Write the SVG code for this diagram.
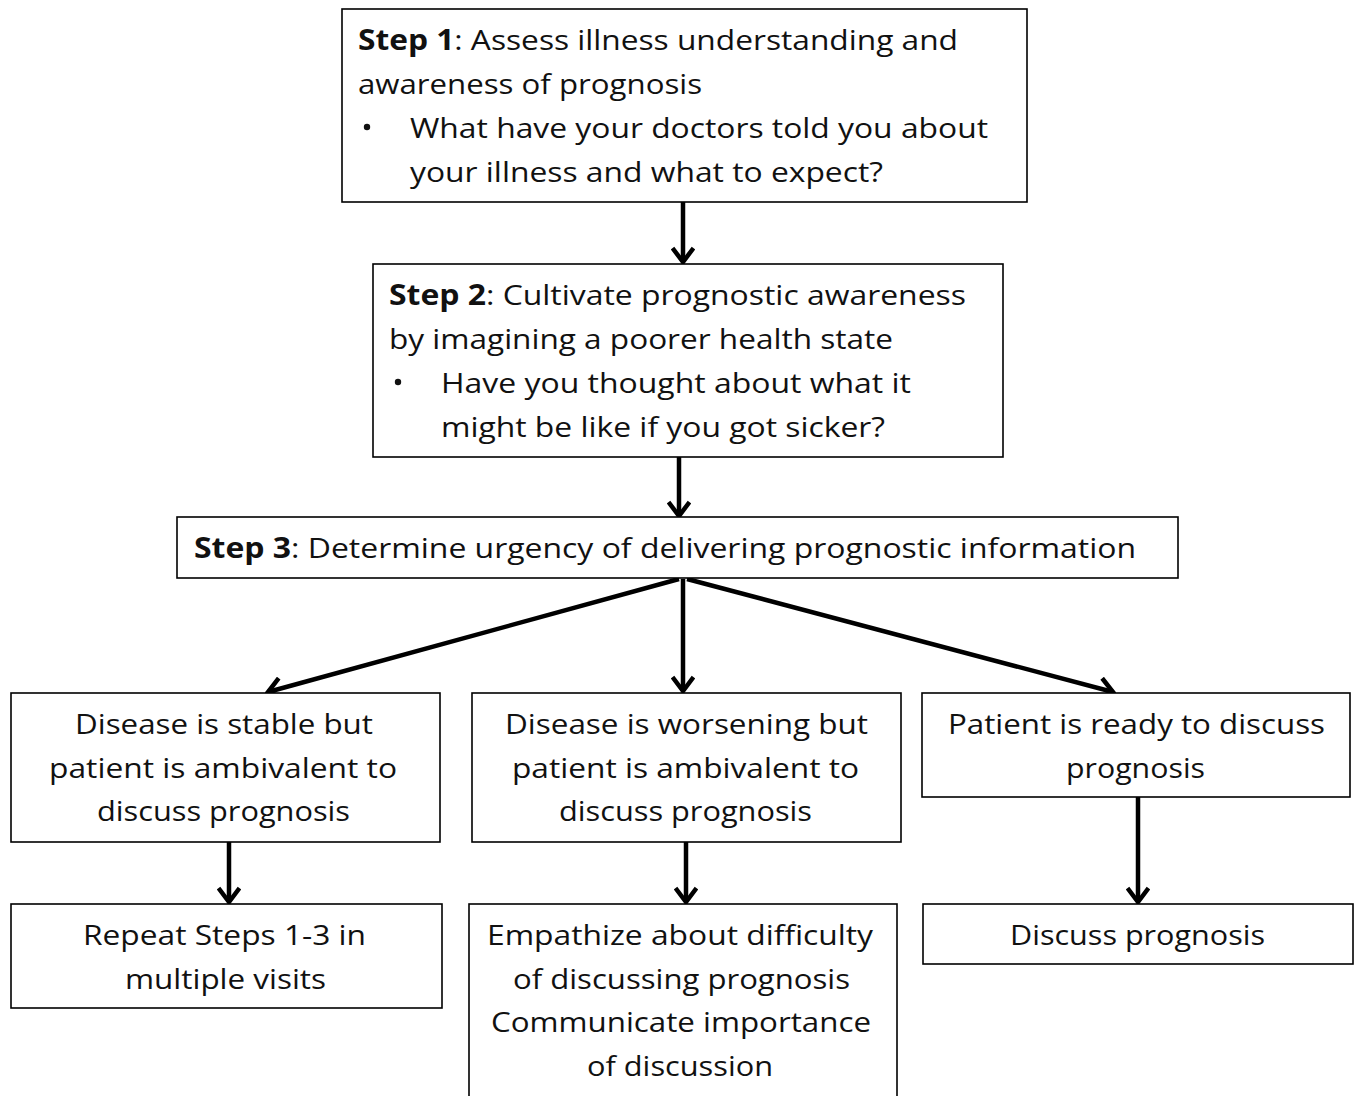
<svg xmlns="http://www.w3.org/2000/svg" width="1357" height="1096" viewBox="0 0 1357 1096">
<style>
.box{fill:#fff;stroke:#000;stroke-width:1.6}
.t{font-family:"Open Sans","Liberation Sans",sans-serif;font-size:28px;fill:#111}
.b{font-weight:bold}
.bul{fill:#111}
.ln{stroke:#000;stroke-width:4.5;fill:none;marker-end:url(#ah)}
</style>
<defs>
<marker id="ah" viewBox="0 0 24 24" refX="21" refY="12" markerWidth="24" markerHeight="24" markerUnits="userSpaceOnUse" orient="auto">
<path d="M7,1.5 L21,12 L7,22.5" fill="none" stroke="#000" stroke-width="4.5"/>
</marker>
</defs>
<rect width="1357" height="1096" fill="#fff"/>
<g id="connectors">
<line class="ln" x1="683" y1="202" x2="683" y2="262"/>
<line class="ln" x1="679" y1="457" x2="679" y2="516"/>
<line class="ln" x1="679" y1="579" x2="268" y2="692"/>
<line class="ln" x1="683" y1="579" x2="683" y2="691"/>
<line class="ln" x1="687" y1="579" x2="1113" y2="692"/>
<line class="ln" x1="229" y1="842" x2="229" y2="902"/>
<line class="ln" x1="686" y1="842" x2="686" y2="902"/>
<line class="ln" x1="1138" y1="797" x2="1138" y2="902"/>
</g>
<g id="step1">
<rect class="box" x="342" y="9" width="685" height="193"/>
<text class="t" x="358" y="50" textLength="600" lengthAdjust="spacingAndGlyphs"><tspan class="b">Step 1</tspan>:  Assess illness understanding and</text>
<text class="t" x="358" y="94" textLength="344" lengthAdjust="spacingAndGlyphs">awareness of prognosis</text>
<circle class="bul" cx="367" cy="127" r="3.2"/>
<text class="t" x="410" y="138" textLength="578" lengthAdjust="spacingAndGlyphs">What have your doctors told you about</text>
<text class="t" x="410" y="182" textLength="473" lengthAdjust="spacingAndGlyphs">your illness and what to expect?</text>
</g>
<g id="step2">
<rect class="box" x="373" y="264" width="630" height="193"/>
<text class="t" x="389" y="305" textLength="577" lengthAdjust="spacingAndGlyphs"><tspan class="b">Step 2</tspan>:  Cultivate prognostic awareness</text>
<text class="t" x="389" y="349" textLength="504" lengthAdjust="spacingAndGlyphs">by imagining a poorer health state</text>
<circle class="bul" cx="398" cy="382" r="3.2"/>
<text class="t" x="441" y="393" textLength="470" lengthAdjust="spacingAndGlyphs">Have you thought about what it</text>
<text class="t" x="441" y="437" textLength="444" lengthAdjust="spacingAndGlyphs">might be like if you got sicker?</text>
</g>
<g id="step3">
<rect class="box" x="177" y="517" width="1001" height="61"/>
<text class="t" x="194" y="558" textLength="942" lengthAdjust="spacingAndGlyphs"><tspan class="b">Step 3</tspan>:  Determine urgency of delivering prognostic information</text>
</g>
<g id="stable">
<rect class="box" x="11" y="693" width="429" height="149"/>
<text class="t" x="75" y="734" textLength="298" lengthAdjust="spacingAndGlyphs">Disease is stable but</text>
<text class="t" x="49" y="778" textLength="348" lengthAdjust="spacingAndGlyphs">patient is ambivalent to</text>
<text class="t" x="97" y="821" textLength="253" lengthAdjust="spacingAndGlyphs">discuss prognosis</text>
</g>
<g id="worsening">
<rect class="box" x="472" y="693" width="429" height="149"/>
<text class="t" x="505" y="734" textLength="363" lengthAdjust="spacingAndGlyphs">Disease is worsening but</text>
<text class="t" x="512" y="778" textLength="347" lengthAdjust="spacingAndGlyphs">patient is ambivalent to</text>
<text class="t" x="559" y="821" textLength="253" lengthAdjust="spacingAndGlyphs">discuss prognosis</text>
</g>
<g id="ready">
<rect class="box" x="922" y="693" width="428" height="104"/>
<text class="t" x="948" y="734" textLength="377" lengthAdjust="spacingAndGlyphs">Patient is ready to discuss</text>
<text class="t" x="1066" y="778" textLength="139" lengthAdjust="spacingAndGlyphs">prognosis</text>
</g>
<g id="repeat">
<rect class="box" x="11" y="904" width="431" height="104"/>
<text class="t" x="83" y="945" textLength="283" lengthAdjust="spacingAndGlyphs">Repeat Steps 1-3 in</text>
<text class="t" x="125" y="989" textLength="201" lengthAdjust="spacingAndGlyphs">multiple visits</text>
</g>
<g id="empathize">
<rect class="box" x="469" y="904" width="428" height="200"/>
<text class="t" x="487" y="945" textLength="386" lengthAdjust="spacingAndGlyphs">Empathize about difficulty</text>
<text class="t" x="513" y="989" textLength="337" lengthAdjust="spacingAndGlyphs">of discussing prognosis</text>
<text class="t" x="491" y="1032" textLength="380" lengthAdjust="spacingAndGlyphs">Communicate importance</text>
<text class="t" x="587" y="1076" textLength="186" lengthAdjust="spacingAndGlyphs">of discussion</text>
</g>
<g id="discuss">
<rect class="box" x="923" y="904" width="430" height="60"/>
<text class="t" x="1010" y="945" textLength="255" lengthAdjust="spacingAndGlyphs">Discuss prognosis</text>
</g>
</svg>
